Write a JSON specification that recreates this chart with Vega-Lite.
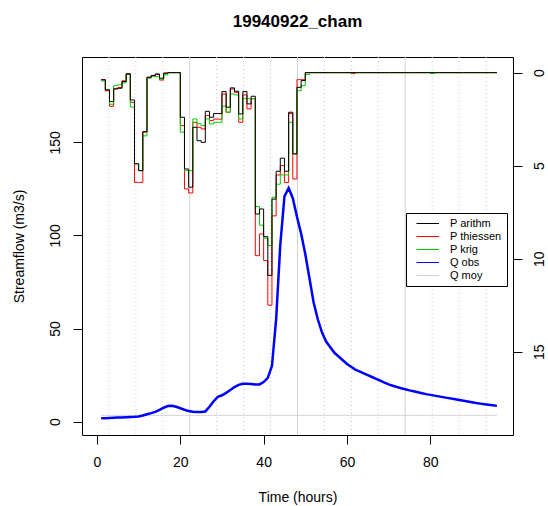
{
"$schema": "https://vega.github.io/schema/vega-lite/v6.json",
"width": 431, "height": 378,
"autosize": {"type": "none"},
"padding": {"left": 82, "top": 57, "right": 35, "bottom": 71},
"background": "white",
"config": {"font": "Liberation Sans", "view": {"stroke": "black", "strokeWidth": 1},
  "axis": {"labelColor": "black", "titleColor": "black", "tickColor": "black", "labelFontSize": 14, "titleFontSize": 14, "titleFontWeight": "normal", "grid": false, "domain": false, "tickSize": 9}},
"title": {"text": "19940922_cham", "fontSize": 17, "fontWeight": "bold", "anchor": "middle", "offset": 26, "color": "black"},
"datasets": {
 "minor": [{"hour": 2.87}, {"hour": 9.33}, {"hour": 15.8}, {"hour": 28.73}, {"hour": 35.2}, {"hour": 41.66}, {"hour": 54.6}, {"hour": 61.06}, {"hour": 67.53}, {"hour": 80.46}, {"hour": 86.92}, {"hour": 93.39}],
 "major": [{"hour": 22.27}, {"hour": 48.13}, {"hour": 73.99}],
 "obs": [
{"hour":1,"P arithm":0.39,"P thiessen":0.37,"P krig":0.45,"Q obs":1.8,"Q moy":3.4},
{"hour":2,"P arithm":0.93,"P thiessen":0.98,"P krig":0.9,"Q obs":1.9,"Q moy":3.4},
{"hour":3,"P arithm":1.56,"P thiessen":1.81,"P krig":1.7,"Q obs":2.0,"Q moy":3.4},
{"hour":4,"P arithm":0.88,"P thiessen":0.85,"P krig":0.7,"Q obs":2.1,"Q moy":3.4},
{"hour":5,"P arithm":0.84,"P thiessen":0.8,"P krig":0.65,"Q obs":2.2,"Q moy":3.4},
{"hour":6,"P arithm":0.48,"P thiessen":0.44,"P krig":0.55,"Q obs":2.3,"Q moy":3.4},
{"hour":7,"P arithm":0.07,"P thiessen":0.05,"P krig":0.1,"Q obs":2.4,"Q moy":3.4},
{"hour":8,"P arithm":1.47,"P thiessen":1.6,"P krig":1.85,"Q obs":2.5,"Q moy":3.4},
{"hour":9,"P arithm":4.9,"P thiessen":5.9,"P krig":4.9,"Q obs":2.6,"Q moy":3.4},
{"hour":10,"P arithm":5.27,"P thiessen":5.9,"P krig":5.27,"Q obs":2.8,"Q moy":3.4},
{"hour":11,"P arithm":3.17,"P thiessen":3.2,"P krig":3.4,"Q obs":3.3,"Q moy":3.4},
{"hour":12,"P arithm":0.25,"P thiessen":0.25,"P krig":0.3,"Q obs":4.0,"Q moy":3.4},
{"hour":13,"P arithm":0.16,"P thiessen":0.15,"P krig":0.2,"Q obs":4.6,"Q moy":3.4},
{"hour":14,"P arithm":0.07,"P thiessen":0.1,"P krig":0.22,"Q obs":5.3,"Q moy":3.4},
{"hour":15,"P arithm":0.3,"P thiessen":0.4,"P krig":0.35,"Q obs":6.3,"Q moy":3.4},
{"hour":16,"P arithm":0.02,"P thiessen":0.05,"P krig":0.12,"Q obs":7.5,"Q moy":3.4},
{"hour":17,"P arithm":0,"P thiessen":0,"P krig":0,"Q obs":8.4,"Q moy":3.4},
{"hour":18,"P arithm":0,"P thiessen":0,"P krig":0,"Q obs":8.6,"Q moy":3.4},
{"hour":19,"P arithm":0,"P thiessen":0,"P krig":0,"Q obs":8.0,"Q moy":3.4},
{"hour":20,"P arithm":2.4,"P thiessen":2.85,"P krig":3.2,"Q obs":7.2,"Q moy":3.4},
{"hour":21,"P arithm":5.18,"P thiessen":6.25,"P krig":5.27,"Q obs":6.4,"Q moy":3.4},
{"hour":22,"P arithm":6.16,"P thiessen":6.47,"P krig":5.27,"Q obs":5.7,"Q moy":3.4},
{"hour":23,"P arithm":2.94,"P thiessen":2.67,"P krig":2.49,"Q obs":5.3,"Q moy":3.4},
{"hour":24,"P arithm":3.66,"P thiessen":2.94,"P krig":2.75,"Q obs":5.2,"Q moy":3.4},
{"hour":25,"P arithm":3.75,"P thiessen":3.03,"P krig":2.85,"Q obs":5.2,"Q moy":3.4},
{"hour":26,"P arithm":2.08,"P thiessen":2.3,"P krig":2.49,"Q obs":5.5,"Q moy":3.4},
{"hour":27,"P arithm":2.4,"P thiessen":2.58,"P krig":2.76,"Q obs":8.0,"Q moy":3.4},
{"hour":28,"P arithm":2.2,"P thiessen":2.5,"P krig":2.67,"Q obs":11.0,"Q moy":3.4},
{"hour":29,"P arithm":2.2,"P thiessen":2.5,"P krig":2.67,"Q obs":13.3,"Q moy":3.4},
{"hour":30,"P arithm":1.02,"P thiessen":1.15,"P krig":1.8,"Q obs":14.2,"Q moy":3.4},
{"hour":31,"P arithm":1.86,"P thiessen":2.13,"P krig":2.13,"Q obs":15.5,"Q moy":3.4},
{"hour":32,"P arithm":0.82,"P thiessen":0.88,"P krig":1.15,"Q obs":17.0,"Q moy":3.4},
{"hour":33,"P arithm":1.0,"P thiessen":1.06,"P krig":1.2,"Q obs":18.6,"Q moy":3.4},
{"hour":34,"P arithm":2.22,"P thiessen":2.67,"P krig":2.49,"Q obs":19.8,"Q moy":3.4},
{"hour":35,"P arithm":1.02,"P thiessen":1.2,"P krig":1.4,"Q obs":20.4,"Q moy":3.4},
{"hour":36,"P arithm":1.68,"P thiessen":1.95,"P krig":1.4,"Q obs":20.4,"Q moy":3.4},
{"hour":37,"P arithm":1.27,"P thiessen":1.4,"P krig":1.4,"Q obs":20.3,"Q moy":3.4},
{"hour":38,"P arithm":7.6,"P thiessen":9.84,"P krig":7.2,"Q obs":20.0,"Q moy":3.4},
{"hour":39,"P arithm":7.33,"P thiessen":8.67,"P krig":8.2,"Q obs":20.0,"Q moy":3.4},
{"hour":40,"P arithm":8.82,"P thiessen":10.1,"P krig":8.9,"Q obs":21.3,"Q moy":3.4},
{"hour":41,"P arithm":10.9,"P thiessen":12.5,"P krig":9.3,"Q obs":23.5,"Q moy":3.4},
{"hour":42,"P arithm":6.8,"P thiessen":7.7,"P krig":6.7,"Q obs":30,"Q moy":3.4},
{"hour":43,"P arithm":5.3,"P thiessen":5.5,"P krig":6.0,"Q obs":55,"Q moy":3.4},
{"hour":44,"P arithm":4.6,"P thiessen":5.0,"P krig":5.5,"Q obs":95,"Q moy":3.4},
{"hour":45,"P arithm":5.3,"P thiessen":5.9,"P krig":5.5,"Q obs":121,"Q moy":3.4},
{"hour":46,"P arithm":2.13,"P thiessen":2.2,"P krig":2.67,"Q obs":125.5,"Q moy":3.4},
{"hour":47,"P arithm":4.37,"P thiessen":5.72,"P krig":4.37,"Q obs":120,"Q moy":3.4},
{"hour":48,"P arithm":0.79,"P thiessen":0.38,"P krig":0.97,"Q obs":110,"Q moy":3.4},
{"hour":49,"P arithm":0.43,"P thiessen":0.38,"P krig":0.7,"Q obs":101,"Q moy":3.4},
{"hour":50,"P arithm":0,"P thiessen":0,"P krig":0.1,"Q obs":90,"Q moy":3.4},
{"hour":51,"P arithm":0,"P thiessen":0,"P krig":0,"Q obs":77,"Q moy":3.4},
{"hour":52,"P arithm":0,"P thiessen":0,"P krig":0,"Q obs":64,"Q moy":3.4},
{"hour":53,"P arithm":0,"P thiessen":0,"P krig":0,"Q obs":55,"Q moy":3.4},
{"hour":54,"P arithm":0,"P thiessen":0,"P krig":0,"Q obs":48,"Q moy":3.4},
{"hour":55,"P arithm":0,"P thiessen":0,"P krig":0,"Q obs":43,"Q moy":3.4},
{"hour":56,"P arithm":0,"P thiessen":0,"P krig":0,"Q obs":40,"Q moy":3.4},
{"hour":57,"P arithm":0,"P thiessen":0,"P krig":0,"Q obs":37,"Q moy":3.4},
{"hour":58,"P arithm":0,"P thiessen":0,"P krig":0,"Q obs":35,"Q moy":3.4},
{"hour":59,"P arithm":0,"P thiessen":0,"P krig":0,"Q obs":33,"Q moy":3.4},
{"hour":60,"P arithm":0,"P thiessen":0,"P krig":0,"Q obs":31,"Q moy":3.4},
{"hour":61,"P arithm":0,"P thiessen":0.05,"P krig":0,"Q obs":29.5,"Q moy":3.4},
{"hour":62,"P arithm":0,"P thiessen":0,"P krig":0,"Q obs":28,"Q moy":3.4},
{"hour":63,"P arithm":0,"P thiessen":0,"P krig":0,"Q obs":27,"Q moy":3.4},
{"hour":64,"P arithm":0,"P thiessen":0,"P krig":0,"Q obs":26,"Q moy":3.4},
{"hour":65,"P arithm":0,"P thiessen":0,"P krig":0,"Q obs":25,"Q moy":3.4},
{"hour":66,"P arithm":0,"P thiessen":0,"P krig":0,"Q obs":24,"Q moy":3.4},
{"hour":67,"P arithm":0,"P thiessen":0,"P krig":0,"Q obs":23,"Q moy":3.4},
{"hour":68,"P arithm":0,"P thiessen":0,"P krig":0,"Q obs":22,"Q moy":3.4},
{"hour":69,"P arithm":0,"P thiessen":0,"P krig":0,"Q obs":21,"Q moy":3.4},
{"hour":70,"P arithm":0,"P thiessen":0,"P krig":0,"Q obs":20,"Q moy":3.4},
{"hour":71,"P arithm":0,"P thiessen":0,"P krig":0,"Q obs":19.3,"Q moy":3.4},
{"hour":72,"P arithm":0,"P thiessen":0,"P krig":0,"Q obs":18.6,"Q moy":3.4},
{"hour":73,"P arithm":0,"P thiessen":0,"P krig":0,"Q obs":18,"Q moy":3.4},
{"hour":74,"P arithm":0,"P thiessen":0,"P krig":0,"Q obs":17.4,"Q moy":3.4},
{"hour":75,"P arithm":0,"P thiessen":0,"P krig":0,"Q obs":16.8,"Q moy":3.4},
{"hour":76,"P arithm":0,"P thiessen":0,"P krig":0,"Q obs":16.3,"Q moy":3.4},
{"hour":77,"P arithm":0,"P thiessen":0,"P krig":0,"Q obs":15.8,"Q moy":3.4},
{"hour":78,"P arithm":0,"P thiessen":0,"P krig":0,"Q obs":15.3,"Q moy":3.4},
{"hour":79,"P arithm":0,"P thiessen":0,"P krig":0,"Q obs":14.8,"Q moy":3.4},
{"hour":80,"P arithm":0,"P thiessen":0,"P krig":0.05,"Q obs":14.4,"Q moy":3.4},
{"hour":81,"P arithm":0,"P thiessen":0,"P krig":0,"Q obs":14,"Q moy":3.4},
{"hour":82,"P arithm":0,"P thiessen":0,"P krig":0,"Q obs":13.6,"Q moy":3.4},
{"hour":83,"P arithm":0,"P thiessen":0,"P krig":0,"Q obs":13.2,"Q moy":3.4},
{"hour":84,"P arithm":0,"P thiessen":0,"P krig":0,"Q obs":12.8,"Q moy":3.4},
{"hour":85,"P arithm":0,"P thiessen":0,"P krig":0,"Q obs":12.4,"Q moy":3.4},
{"hour":86,"P arithm":0,"P thiessen":0,"P krig":0,"Q obs":12,"Q moy":3.4},
{"hour":87,"P arithm":0,"P thiessen":0,"P krig":0,"Q obs":11.6,"Q moy":3.4},
{"hour":88,"P arithm":0,"P thiessen":0,"P krig":0,"Q obs":11.2,"Q moy":3.4},
{"hour":89,"P arithm":0,"P thiessen":0,"P krig":0,"Q obs":10.8,"Q moy":3.4},
{"hour":90,"P arithm":0,"P thiessen":0,"P krig":0,"Q obs":10.4,"Q moy":3.4},
{"hour":91,"P arithm":0,"P thiessen":0,"P krig":0,"Q obs":10,"Q moy":3.4},
{"hour":92,"P arithm":0,"P thiessen":0,"P krig":0,"Q obs":9.7,"Q moy":3.4},
{"hour":93,"P arithm":0,"P thiessen":0,"P krig":0,"Q obs":9.4,"Q moy":3.4},
{"hour":94,"P arithm":0,"P thiessen":0,"P krig":0,"Q obs":9.1,"Q moy":3.4},
{"hour":95,"P arithm":0,"P thiessen":0,"P krig":0,"Q obs":8.8,"Q moy":3.4},
{"hour":96,"P arithm":0,"P thiessen":0,"P krig":0,"Q obs":8.5,"Q moy":3.4}
 ]
},
"encoding": {
 "x": {"field": "hour", "type": "quantitative", "scale": {"domain": [-3.6, 99.86], "nice": false, "zero": false},
   "axis": {"values": [0, 20, 40, 60, 80], "title": "Time (hours)", "labelPadding": 11, "titlePadding": 21, "labelFlush": false}},
 "color": {"field": "series", "type": "nominal",
   "scale": {"domain": ["P arithm", "P thiessen", "P krig", "Q obs", "Q moy"], "range": ["black", "#ff0000", "#00cd00", "#0000ff", "#d3d3d3"]},
   "legend": {"orient": "none", "legendX": 324, "legendY": 156, "title": null, "symbolType": "M0,0H5", "symbolSize": 81, "symbolStrokeWidth": 1, "labelFontSize": 11, "labelOffset": 28, "rowPadding": 1, "padding": 5, "strokeColor": "black", "fillColor": "white", "labelColor": "black", "labelBaseline": "middle"}}
},
"layer": [
 {"data": {"name": "minor"}, "mark": {"type": "rule", "strokeDash": [1, 3], "strokeWidth": 1}, "encoding": {"color": {"value": "#c8c8c8"}}},
 {"data": {"name": "major"}, "mark": {"type": "rule", "strokeWidth": 1}, "encoding": {"color": {"value": "#d3d3d3"}}},
 {"data": {"name": "obs"},
  "transform": [{"fold": ["P thiessen", "P krig", "P arithm"], "as": ["series", "p"]}],
  "mark": {"type": "line", "interpolate": "step-after", "strokeWidth": 1},
  "encoding": {"y": {"field": "p", "type": "quantitative", "scale": {"domain": [-0.84, 19.48], "reverse": true, "nice": false, "zero": false},
    "axis": {"orient": "right", "values": [0, 5, 10, 15], "title": null, "labelAngle": -90, "labelAlign": "center", "labelBaseline": "top", "labelPadding": 10}}}},
 {"data": {"name": "obs"},
  "layer": [
   {"transform": [{"fold": ["Q moy"], "as": ["series", "q"]}], "mark": {"type": "line", "strokeWidth": 1},
    "encoding": {"y": {"field": "q", "type": "quantitative", "scale": {"domain": [-7.14, 195.8], "nice": false, "zero": false},
      "axis": {"orient": "left", "values": [0, 50, 100, 150], "title": "Streamflow (m3/s)", "labelAngle": -90, "labelAlign": "center", "labelBaseline": "bottom", "labelPadding": 11, "titlePadding": 22}}}},
   {"transform": [{"fold": ["Q obs"], "as": ["series", "q"]}], "mark": {"type": "line", "strokeWidth": 2.5},
    "encoding": {"y": {"field": "q", "type": "quantitative", "scale": {"domain": [-7.14, 195.8], "nice": false, "zero": false},
      "axis": {"orient": "left", "values": [0, 50, 100, 150], "title": "Streamflow (m3/s)", "labelAngle": -90, "labelAlign": "center", "labelBaseline": "bottom", "labelPadding": 11, "titlePadding": 22}}}}
  ]}
],
"resolve": {"scale": {"y": "independent"}}
}
